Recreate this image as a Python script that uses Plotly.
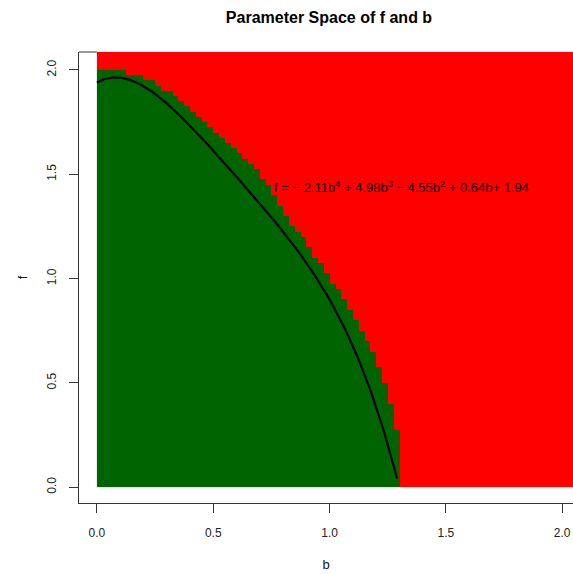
import numpy as np
import plotly.graph_objects as go

# ---- data ----
cell = 0.025                      # grid step in b and f
# top of the green (stable) region for each b-column [0.025k, 0.025(k+1)]
green_top = [2.0, 2.0, 2.0, 2.0, 2.0, 1.975, 1.975, 1.975, 1.95, 1.95,
             1.925, 1.9, 1.9, 1.875, 1.85, 1.825, 1.8, 1.775, 1.75, 1.725,
             1.7, 1.675, 1.65, 1.625, 1.6, 1.575, 1.55, 1.525, 1.475, 1.45,
             1.4, 1.35, 1.3, 1.25, 1.225, 1.2, 1.15, 1.1, 1.075, 1.025,
             0.975, 0.95, 0.9, 0.85, 0.8, 0.75, 0.7, 0.65, 0.575, 0.5,
             0.4, 0.275]
n_b_cells = 83
n_f_cells = 84
poly_coef = [-2.11, 4.98, -4.55, 0.64, 1.94]   # b^4 .. b^0
curve_b_end = 1.29
tick_vals = [0.0, 0.5, 1.0, 1.5, 2.0]
tick_text = ["0.0", "0.5", "1.0", "1.5", "2.0"]
title_text = "Parameter Space of f and b"
eq_text = ("f = \u2212 2.11b<sup>4</sup> + 4.98b<sup>3</sup> \u2212 4.55b<sup>2</sup>"
           " + 0.64b+ 1.94")

# ---- build grid ----
b_edges = np.round(np.arange(n_b_cells + 1) * cell, 4)
f_edges = np.round(np.arange(n_f_cells + 1) * cell, 4)
z = np.zeros((n_f_cells, n_b_cells))
for k, top in enumerate(green_top):
    for j in range(n_f_cells):
        if f_edges[j + 1] <= top + 1e-9:
            z[j, k] = 1

curve_b = np.linspace(0, curve_b_end, 300)
curve_f = np.polyval(poly_coef, curve_b)

FONT = "Liberation Sans, Arial, Helvetica, sans-serif"
LINE = "#333333"

fig = go.Figure()
fig.add_trace(go.Heatmap(
    x=b_edges, y=f_edges, z=z, zmin=0, zmax=1,
    colorscale=[[0, "#FF0000"], [0.5, "#FF0000"], [0.5, "#006400"], [1, "#006400"]],
    showscale=False, hoverinfo="skip", zsmooth=False))
fig.add_trace(go.Scatter(x=curve_b, y=curve_f, mode="lines",
                         line=dict(color="black", width=2.2), hoverinfo="skip",
                         showlegend=False))

fig.update_layout(
    width=573, height=574,
    margin=dict(l=79, r=0, t=52, b=71),
    paper_bgcolor="white", plot_bgcolor="white",
    showlegend=False,
    font=dict(family=FONT, size=12, color="#111"),
    title=dict(text="<b>" + title_text + "</b>", x=329 / 573, xref="container",
               xanchor="center", y=1 - 17 / 574, yref="container", yanchor="middle",
               font=dict(family=FONT, size=16, color="black")),
    xaxis=dict(range=[-0.077, 2.0465], tickvals=tick_vals, ticktext=tick_text,
               ticks="outside", ticklen=9, tickcolor=LINE, tickwidth=1,
               showline=True, linecolor=LINE, linewidth=1, mirror=False,
               showgrid=False, zeroline=False, layer="below traces",
               ticklabelstandoff=10,
               tickfont=dict(family=FONT, size=12, color="#222"),
               title=dict(text="b", standoff=20,
                          font=dict(family=FONT, size=13, color="#111"))),
    yaxis=dict(range=[-0.0757, 2.0862], tickvals=tick_vals, ticktext=tick_text,
               ticks="outside", ticklen=9, tickcolor=LINE, tickwidth=1,
               tickangle=-90,
               showline=True, linecolor=LINE, linewidth=1, mirror=False,
               showgrid=False, zeroline=False, layer="below traces",
               ticklabelstandoff=8,
               tickfont=dict(family=FONT, size=12, color="#222"),
               title=dict(text="f", standoff=14,
                          font=dict(family=FONT, size=13, color="#111"))),
    shapes=[dict(type="line", xref="x", yref="paper", x0=-0.077, x1=0,
                 y0=1, y1=1, line=dict(color=LINE, width=1))],
)
fig.add_annotation(x=0.752, y=1.44, xref="x", yref="y", text=eq_text,
                   showarrow=False, xanchor="left", yanchor="middle",
                   font=dict(family=FONT, size=13, color="black"))

fig.write_html("out.html")
